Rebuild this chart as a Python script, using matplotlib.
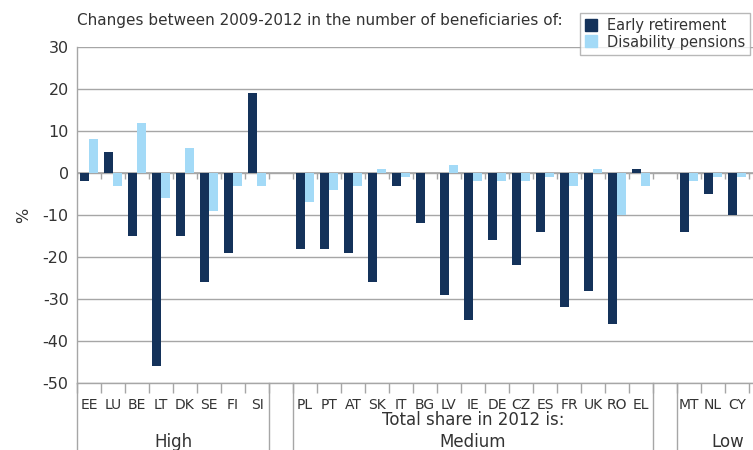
import numpy as np
import matplotlib
matplotlib.use("Agg")
import matplotlib.pyplot as plt
from matplotlib.lines import Line2D

countries = ["EE", "LU", "BE", "LT", "DK", "SE", "FI", "SI", "",
             "PL", "PT", "AT", "SK", "IT", "BG", "LV", "IE", "DE", "CZ", "ES", "FR", "UK", "RO", "EL", "",
             "MT", "NL", "CY"]
early_retirement = [-2, 5, -15, -46, -15, -26, -19, 19, np.nan,
                    -18, -18, -19, -26, -3, -12, -29, -35, -16, -22, -14, -32, -28, -36, 1, np.nan,
                    -14, -5, -10]
disability_pensions = [8, -3, 12, -6, 6, -9, -3, -3, np.nan,
                       -7, -4, -3, 1, -1, 0, 2, -2, -2, -2, -1, -3, 1, -10, -3, np.nan,
                       -2, -1, -1]
yticks = [30, 20, 10, 0, -10, -20, -30, -40, -50]
series_names = ["Early retirement", "Disability pensions"]
title = "Changes between 2009-2012 in the number of beneficiaries of:"

DARK = "#14325a"
LIGHT = "#a3daf7"
GRID = "#a6a6a6"
TXT = "#333333"

plt.rcParams["font.family"] = ["DejaVu Sans"]
plt.rcParams["axes.unicode_minus"] = False

W, H = 753, 450
fig = plt.figure(figsize=(W / 100, H / 100), dpi=100)

left, right, top, bottom = 77, 753, 47, 383
ax = fig.add_axes([left / W, 1 - bottom / H, (right - left) / W, (bottom - top) / H])

x = np.arange(len(countries))
bw = 0.375
ax.bar(x - bw / 2, early_retirement, width=bw, color=DARK, zorder=3)
ax.bar(x + bw / 2, disability_pensions, width=bw, color=LIGHT, zorder=3)

slot_px = 24
ax.set_xlim(-0.5, -0.5 + (right - left) / slot_px)
ax.set_ylim(-50, 30)

ax.set_yticks(yticks)
ax.tick_params(axis="y", length=0, labelsize=11.5, colors=TXT, pad=6)
ax.grid(axis="y", color=GRID, linewidth=1.0, zorder=1)

ax.set_xticks(x)
ax.set_xticklabels(countries)
ax.set_xticks(np.arange(len(countries) + 1) - 0.5, minor=True)
ax.tick_params(axis="x", which="major", length=0, labelsize=10, colors=TXT, pad=11)
ax.tick_params(axis="x", which="minor", length=7, color=GRID, width=1)

for s in ["top", "right"]:
    ax.spines[s].set_visible(False)
for s in ["left", "bottom"]:
    ax.spines[s].set_color(GRID)
    ax.spines[s].set_linewidth(1.0)

# zero axis with tick marks
ax.axhline(0, color=GRID, linewidth=1.2, zorder=2)
tick_units = 6 / ((bottom - top) / 80)
ax.vlines(np.arange(len(countries) + 1) - 0.5, -tick_units, 0, color=GRID, linewidth=1, zorder=2)

ax.set_ylabel("%", fontsize=11.5, color=TXT, labelpad=8)

# group separators below axis
trans = ax.get_xaxis_transform()
seps = [-0.5, 7.5, 8.5, 23.5, 24.5]
for s in seps:
    ax.plot([s, s], [0, -(H - bottom) / (bottom - top)], transform=trans, color=GRID,
            linewidth=1, clip_on=False)

def ypos(py):
    return -(py - bottom) / (bottom - top)

ax.text(3.5, ypos(442), "High", transform=trans, ha="center", va="center", fontsize=12, color=TXT)
ax.text(16, ypos(442), "Medium", transform=trans, ha="center", va="center", fontsize=12, color=TXT)
ax.text(16, ypos(420), "Total share in 2012 is:", transform=trans, ha="center", va="center",
        fontsize=12, color=TXT)
ax.text((728 - left) / slot_px - 0.5, ypos(442), "Low", transform=trans, ha="center", va="center",
        fontsize=12, color=TXT)

fig.text(left / W, 1 - 20 / H, title, ha="left", va="center", fontsize=11, color=TXT)

handles = [Line2D([], [], marker="s", linestyle="none", markersize=8, color=DARK),
           Line2D([], [], marker="s", linestyle="none", markersize=8, color=LIGHT)]
leg = fig.legend(handles, series_names, loc="upper left", bbox_to_anchor=(580 / W, 1 - 13 / H),
                 frameon=True, fancybox=False, fontsize=10.5, handlelength=0.8, handletextpad=0.7,
                 borderpad=0.35, labelspacing=0.1, borderaxespad=0)
leg.get_frame().set_edgecolor(GRID)
leg.get_frame().set_linewidth(1.0)
for t in leg.get_texts():
    t.set_color(TXT)

fig.savefig("out.png", dpi=100)
